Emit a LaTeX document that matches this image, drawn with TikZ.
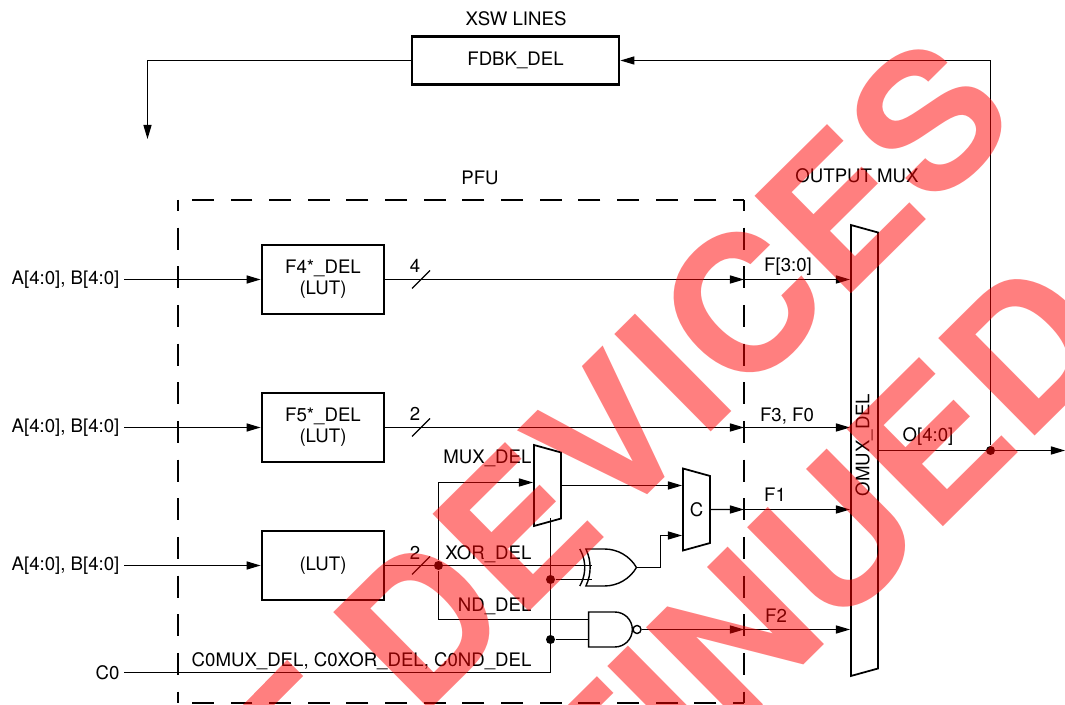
\documentclass[tikz,border=0pt]{standalone}
\usepackage{fontspec}
\setmainfont{TeX Gyre Heros}
\usepackage{tikz}
\usetikzlibrary{arrows.meta,shapes.geometric,shapes.gates.logic.US}
\tikzset{
  delbox/.style={draw,line width=1.6pt,minimum width=2.44cm,minimum height=1.38cm,align=center,inner sep=0pt},
  muxbox/.style={draw,line width=1pt,trapezium,shape border rotate=270,trapezium left angle=61,trapezium right angle=61,trapezium stretches body,inner sep=0pt,minimum width=#1,minimum height=0.54cm},
  pfuedge/.style={line width=1.5pt,dash pattern=on 12.5pt off 9.5pt,dash phase=6.25pt},
  juncdot/.style={circle,fill=black,inner sep=0pt,minimum size=0.18cm},
  gatebox/.style={draw,line width=0.8pt,logic gate inputs=nn,inner sep=0pt},
  lbl/.style={inner sep=0pt},
  stamp/.style={rotate=44.7,xscale=1.03,text=red,text opacity=0.5,inner sep=0pt,font=\fontsize{107}{107}\selectfont\bfseries}
}
\begin{document}
\begin{tikzpicture}[x=0.02cm,y=-0.02cm,>={Stealth[length=8pt,width=4.6pt,inset=0pt]},line width=0.7pt,font=\fontsize{10.6}{12}\selectfont]
\useasboundingbox (0,0) rectangle (1065,705);
% feedback
\node[delbox,minimum width=4.14cm,minimum height=0.97cm] (fdbkdel) at (515.5,60.5) {FDBK\_DEL};
\node[lbl] (xswlines) at (516,19) {XSW LINES};
\coordinate (fdbkdown) at (147.5,139);
\coordinate (fdbkturn) at (147.5,60.5);
% PFU frame
\coordinate (pfutl) at (178,200);
\coordinate (pfutr) at (744,200);
\coordinate (pfubl) at (178,703);
\coordinate (pfubr) at (744,703);
\draw[pfuedge] (pfutr) -- (pfutl);
\draw[pfuedge] (pfutr) -- (pfubr);
\draw[pfuedge] (pfutl) -- (pfubl);
\draw[pfuedge] (pfubr) -- (pfubl);
\node[lbl] (pfulbl) at (480,178) {PFU};
% LUTs
\node[delbox] (f4del) at (323,279.5) {F4*\_DEL\\(LUT)};
\node[delbox] (f5del) at (323,427.5) {F5*\_DEL\\(LUT)};
\node[delbox] (lutdel) at (323,565.5) {(LUT)};
\node[lbl,anchor=east] (ain1) at (120,279.5) {A[4:0], B[4:0]};
\node[lbl,anchor=east] (ain2) at (120,428) {A[4:0], B[4:0]};
\node[lbl,anchor=east] (ain3) at (120,566) {A[4:0], B[4:0]};
\node[lbl,anchor=east] (czero) at (120,672.5) {C0};
\coordinate (ain1end) at (124,279.5);
\coordinate (ain2end) at (124,427.5);
\coordinate (ain3end) at (124,565.5);
\coordinate (c0end) at (124,672.5);
\draw[->] (ain1end) -- (f4del.west);
\draw[->] (ain2end) -- (f5del.west);
\draw[->] (ain3end) -- (lutdel.west);
% muxes
\node[muxbox=1.62cm] (muxdel) at (547.5,485.5) {\phantom{C}};
\node[muxbox=1.64cm] (cmux) at (696.5,509.5) {C};
\node[muxbox=9.02cm] (omuxdel) at (864.5,450.5) {\phantom{C}};
\node[lbl,rotate=90] (omuxlbl) at (864,445) {OMUX\_DEL};
\node[lbl] (omuxtop) at (857,176) {OUTPUT MUX};
% gates
\node[xor gate US,gatebox,anchor=center,minimum width=0.74cm,minimum height=0.74cm,logic gate input sep=0.24cm] (xordel) at (607.5,567.5) {};
\node[nand gate US,gatebox,anchor=center,minimum width=0.84cm,minimum height=0.7cm,logic gate input sep=0.2cm,logic gate inverted radius=0.08cm] (nanddel) at (609,629.5) {};
% junctions
\node[juncdot] (dotlut) at (438.5,565.5) {};
\node[juncdot] (dotxor) at (550.5,579.5) {};
\node[juncdot] (dotnand) at (550.5,639.5) {};
\node[juncdot] (dotout) at (990.5,450.5) {};
\coordinate (muxin) at (533,482.5);
\coordinate (muxout) at (561,485.5);
\coordinate (muxbot) at (550.5,518);
\coordinate (cin1) at (682,485.5);
\coordinate (cin2) at (682,535.5);
\coordinate (xorturn) at (660.5,567);
\coordinate (xorin1) at (592,565.5);
\coordinate (xorin2) at (592,579.5);
\coordinate (nandin1) at (588,619.5);
\coordinate (nandin2) at (588,639.5);
\coordinate (c0turn) at (550.5,672.5);
\coordinate (ndturn) at (438.5,619.5);
\coordinate (muxturn) at (438.5,482.5);
\coordinate (omuxout) at (878,450.5);
\coordinate (outend) at (1065,450.5);
\coordinate (fdbkcorner) at (990.5,60.5);
% F lines through the frame
\coordinate (f4cross) at (744,279.5);
\coordinate (f5cross) at (744,427.5);
\coordinate (f1cross) at (744,509.5);
\coordinate (f2cross) at (744,629.5);
\coordinate (f4end) at (850,279.5);
\coordinate (f5end) at (850,427.5);
\coordinate (f1end) at (850,509.5);
\coordinate (f2end) at (850,629.5);
\draw[->] (f4del.east) -- (f4cross);
\draw[->] (f4cross) -- (f4end);
\draw[->] (f5del.east) -- (f5cross);
\draw[->] (f5cross) -- (f5end);
\draw[->] (cmux.east) -- (f1cross);
\draw[->] (f1cross) -- (f1end);
\draw[->] (nanddel.output) -- (f2cross);
\draw[->] (f2cross) -- (f2end);
\draw (lutdel.east) -- (xorin1);
\draw[->] (dotlut) -- (muxturn) -- (muxin);
\draw (dotlut) -- (ndturn) -- (nandin1);
\draw[->] (muxout) -- (cin1);
\draw[->] (xordel.output) -| (xorturn) |- (cin2);
\draw (muxbot) -- (c0turn) -- (c0end);
\draw (dotxor) -- (xorin2);
\draw (dotnand) -- (nandin2);
\draw[->] (omuxout) -- (outend);
\draw[->] (dotout) -- (fdbkcorner) -- (fdbkdel.east);
\draw[->] (fdbkdel.west) -- (fdbkturn) -- (fdbkdown);
% bus marks
\draw (412,288.5) -- (430,270.5);
\draw (412,436.5) -- (430,418.5);
\draw (412,574.5) -- (430,556.5);
\node[lbl] (bus4) at (415,266) {4};
\node[lbl] (bus2a) at (415,414) {2};
\node[lbl] (bus2b) at (415,553) {2};
% labels
\node[lbl] (f30) at (788,267) {F[3:0]};
\node[lbl] (f3f0) at (787,416) {F3, F0};
\node[lbl] (f1) at (775,495) {F1};
\node[lbl] (f2) at (776,616) {F2};
\node[lbl] (o40) at (928,437) {O[4:0]};
\node[lbl,anchor=east] (muxlbl) at (532,458) {MUX\_DEL};
\node[lbl,anchor=east] (xorlbl) at (532,554) {XOR\_DEL};
\node[lbl,anchor=east] (ndlbl) at (532,606) {ND\_DEL};
\node[lbl,anchor=east] (c0lbl) at (532,661) {C0MUX\_DEL, C0XOR\_DEL, C0ND\_DEL};
% stamp
\begin{scope}
\clip (0,0) rectangle (1065,705);
\node[stamp,anchor=base west] (stamp1) at (419,721) {DEVICES};
\node[stamp,anchor=base east] (stamp2) at (1124,348) {DISCONTINUED};
\fill[red,opacity=0.5] (287,660) -- (303,676) -- (274,705) -- (243,705) -- cycle;
\end{scope}
\end{tikzpicture}
\end{document}
